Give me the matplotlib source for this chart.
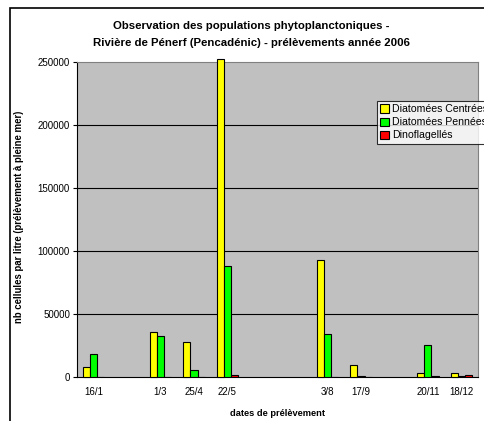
import matplotlib
matplotlib.use('Agg')
import matplotlib.pyplot as plt
from matplotlib.patches import Rectangle
import numpy as np

plt.rcParams['font.family'] = ['Liberation Sans', 'DejaVu Sans']

# dates de prélèvement (axe par mois)
dates = ['16/1', '1/3', '25/4', '22/5', '3/8', '17/9', '20/11', '18/12']
mois = [1, 3, 4, 5, 8, 9, 11, 12]

centrees = [8000, 36000, 27800, 252400, 93000, 9500, 3000, 3000]
pennees = [18500, 32500, 5500, 88000, 34000, 400, 25200, 800]
dinos = [0, 0, 0, 1200, 0, 300, 500, 1500]

fig = plt.figure(figsize=(4.85, 4.21), dpi=100)
ax = fig.add_axes([77/485, 1 - 377/421, (478 - 77)/485, (377 - 62)/421])
ax.set_facecolor('#C0C0C0')

x = np.array(mois, dtype=float)
w = 0.215
ax.bar(x - w, centrees, w, color='#FFFF00', edgecolor='black', linewidth=0.8,
       label='Diatomées Centrées', zorder=3, clip_on=False)
ax.bar(x, pennees, w, color='#00FF00', edgecolor='black', linewidth=0.8,
       label='Diatomées Pennées', zorder=3)
ax.bar(x + w, dinos, w, color='#FF0000', edgecolor='black', linewidth=0.8,
       label='Dinoflagellés', zorder=3)

ax.set_xlim(0.5, 12.5)
ax.set_ylim(0, 250000)
ax.set_yticks(range(0, 250001, 50000))
ax.set_yticklabels([str(v) for v in range(0, 250001, 50000)], fontsize=7)
ax.set_xticks(mois)
ax.set_xticklabels(dates, fontsize=7)
ax.tick_params(axis='x', length=0, pad=7)
ax.tick_params(axis='y', length=3, width=0.8, pad=2)
for v in range(50000, 250000, 50000):
    ax.axhline(v, color='black', linewidth=0.8, zorder=1)
for side in ['top', 'right']:
    ax.spines[side].set_color('#808080')
for side in ['left', 'bottom']:
    ax.spines[side].set_color('black')

ax.set_ylabel('nb cellules par litre (prélèvement à pleine mer)', fontsize=6.9,
              fontweight='bold')
ax.yaxis.set_label_coords(-0.132, 0.508)
ax.set_xlabel('dates de prélèvement', fontsize=6.7, fontweight='bold')
ax.xaxis.set_label_coords(0.5, -0.10)

fig.text(0.518, 1 - 26/421, 'Observation des populations phytoplanctoniques -',
         ha='center', va='center', fontsize=8.2, fontweight='bold')
fig.text(0.518, 1 - 43/421, 'Rivière de Pénerf (Pencadénic) - prélèvements année 2006',
         ha='center', va='center', fontsize=8.2, fontweight='bold')

leg = ax.legend(loc='upper left', bbox_to_anchor=(377/485, 1 - 101/421),
                bbox_transform=fig.transFigure, fontsize=7.6, frameon=True,
                fancybox=False, borderpad=0.3, labelspacing=0.3,
                handlelength=0.8, handleheight=0.8, handletextpad=0.3,
                borderaxespad=0)
leg.get_frame().set_edgecolor('black')
leg.get_frame().set_linewidth(0.8)

fig.patches.append(Rectangle((10/485, -0.1), 1.2, 1.1 - 8/421, fill=False,
                             edgecolor='black', linewidth=1.2,
                             transform=fig.transFigure, figure=fig))

fig.savefig('out.png', dpi=100)
